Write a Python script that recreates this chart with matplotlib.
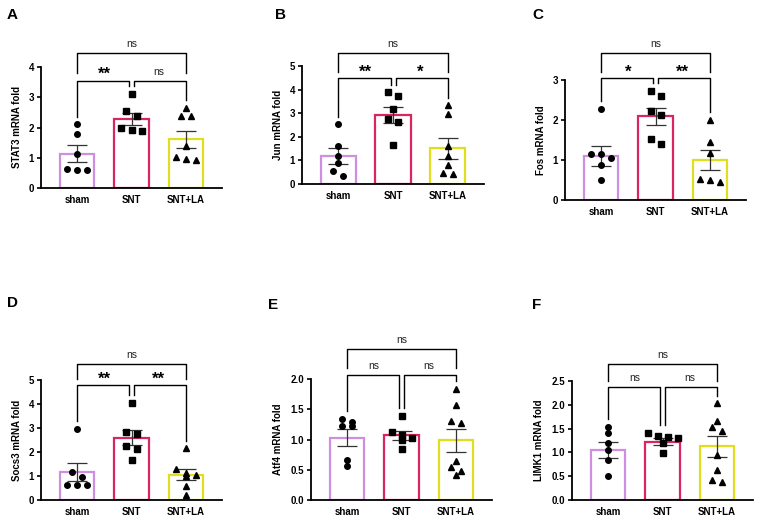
import matplotlib
matplotlib.use("Agg")
import matplotlib.pyplot as plt
import numpy as np

plt.rcParams['font.family'] = ['Liberation Sans', 'DejaVu Sans']

groups = ["sham", "SNT", "SNT+LA"]
bar_colors = ["#CF8FE0", "#D9265F", "#E0DF1F"]
markers = ["o", "s", "^"]

panel_letters = ["A", "B", "C", "D", "E", "F"]
ylabels = ["STAT3 mRNA fold", "Jun mRNA fold", "Fos mRNA fold",
           "Socs3 mRNA fold", "Atf4 mRNA fold", "LIMK1 mRNA fold"]
ymaxes = [4, 5, 3, 5, 2.0, 2.5]
ysteps = [1, 1, 1, 1, 0.5, 0.5]
ytick_fmt = ["{:.0f}", "{:.0f}", "{:.0f}", "{:.0f}", "{:.1f}", "{:.1f}"]

# individual points per group (sham, SNT, SNT+LA)
stat3 = [[2.10, 1.80, 1.13, 0.58, 0.64, 0.58],
         [3.10, 2.55, 2.38, 1.90, 1.98, 1.92],
         [2.64, 2.39, 2.37, 1.39, 1.02, 0.91, 0.97]]
jun = [[2.53, 1.59, 1.19, 0.88, 0.56, 0.32],
       [3.89, 3.71, 3.16, 2.75, 2.63, 1.66],
       [3.33, 2.96, 1.59, 1.19, 0.80, 0.44, 0.48]]
fos = [[2.28, 1.16, 1.16, 1.04, 0.88, 0.50],
       [2.72, 2.60, 2.22, 2.12, 1.52, 1.40],
       [2.00, 1.46, 1.17, 0.46, 0.53, 0.49]]
socs3 = [[2.96, 1.15, 0.97, 0.64, 0.64, 0.64],
         [4.06, 2.85, 2.74, 2.25, 2.11, 1.67],
         [2.15, 1.28, 1.14, 1.00, 1.06, 0.58, 0.21]]
atf4 = [[1.23, 1.29, 1.34, 1.23, 0.66, 0.56],
        [1.39, 1.07, 1.12, 1.03, 1.00, 0.84],
        [1.84, 1.57, 1.30, 1.27, 0.65, 0.54, 0.48, 0.41]]
limk1 = [[1.54, 1.40, 1.20, 1.05, 0.85, 0.50],
         [1.30, 1.34, 1.41, 1.33, 1.19, 0.98],
         [2.03, 1.67, 1.53, 1.44, 0.95, 0.63, 0.43, 0.38]]
points = [stat3, jun, fos, socs3, atf4, limk1]

# bar heights and SEM
means = [[1.13, 2.27, 1.61], [1.17, 2.94, 1.52], [1.11, 2.09, 1.00],
         [1.17, 2.60, 1.05], [1.03, 1.07, 0.99], [1.05, 1.22, 1.13]]
sems = [[0.285, 0.20, 0.285], [0.34, 0.335, 0.44], [0.25, 0.21, 0.255],
        [0.375, 0.32, 0.235], [0.14, 0.075, 0.19], [0.16, 0.075, 0.22]]

# significance: sham-SNT, SNT-SNT+LA, sham-SNT+LA
sig = [["**", "ns", "ns"], ["**", "*", "ns"], ["*", "**", "ns"],
       ["**", "**", "ns"], ["ns", "ns", "ns"], ["ns", "ns", "ns"]]
bracket_low = [3.55, 4.48, 3.04, 4.79, 2.07, 2.37]
bracket_top = [4.46, 5.54, 3.67, 5.67, 2.50, 2.86]

W, H = 757, 520
# axes boxes in pixels: left, top, right, bottom
boxes = [(41, 67, 222, 188), (302, 66, 484, 184), (565, 80, 746, 200),
         (41, 380, 222, 500), (311, 379, 492, 500), (572, 381, 753, 500)]
letter_pos = [(7, 15), (275, 15), (532, 15), (7, 303), (268, 305), (532, 305)]

XMIN, XMAX = -0.66, 2.66

fig = plt.figure(figsize=(W / 100, H / 100), dpi=100)


def swarm_offsets(vals, ppu_x, ppu_y, gap_px=10, row_px=6):
    vals = np.asarray(vals)
    order = np.argsort(-vals, kind="stable")
    rows = []
    for i in order:
        if rows and abs(vals[rows[-1][0]] - vals[i]) * ppu_y < row_px:
            rows[-1].append(i)
        else:
            rows.append([i])
    offs = np.zeros(len(vals))
    for row in rows:
        n = len(row)
        for k, i in enumerate(row):
            offs[i] = (k - (n - 1) / 2) * gap_px / ppu_x
    return offs


for p in range(6):
    l, t, r, b = boxes[p]
    ax = fig.add_axes([l / W, 1 - b / H, (r - l) / W, (b - t) / H])
    ymax = ymaxes[p]
    ppu_x = (r - l) / (XMAX - XMIN)
    ppu_y = (b - t) / ymax
    x = np.arange(3)

    ax.bar(x, means[p], width=0.64, color="white", edgecolor=bar_colors,
           linewidth=1.6, zorder=2)
    ax.errorbar(x, means[p], yerr=sems[p], fmt="none", ecolor="#333333",
                elinewidth=0.9, capsize=7.5, capthick=0.9, zorder=3)
    for g in range(3):
        vals = points[p][g]
        offs = swarm_offsets(vals, ppu_x, ppu_y)
        ms = 4.4 if markers[g] == "^" else 4.0
        ax.plot(g + offs, vals, linestyle="none", marker=markers[g], ms=ms,
                color="black", zorder=4, clip_on=False)

    # brackets
    pad = 0.065 * ymax
    gmax = [max(v) + pad for v in points[p]]
    lo, hi = bracket_low[p], bracket_top[p]
    d = 2.5 / ppu_x
    leg_top = lo + 0.27 * (hi - lo)
    kw = dict(color="black", lw=1.0, clip_on=False, zorder=5)
    ax.plot([0, 0, 1 - d, 1 - d], [gmax[0], lo, lo, gmax[1]], **kw)
    ax.plot([1 + d, 1 + d, 2, 2], [gmax[1], lo, lo, gmax[2]], **kw)
    ax.plot([0, 0, 2, 2], [leg_top, hi, hi, leg_top], **kw)
    for (xc, yl, s) in [(0.5, lo, sig[p][0]), (1.5, lo, sig[p][1]), (1.0, hi, sig[p][2])]:
        if s == "ns":
            ax.annotate(s, (xc, yl), xytext=(0, 6.5), textcoords="offset points",
                        ha="center", va="center", fontsize=7.5, color="#222222",
                        annotation_clip=False)
        else:
            ax.annotate(s, (xc, yl), xytext=(0, 4.5), textcoords="offset points",
                        ha="center", va="center", fontsize=12, fontweight="bold",
                        annotation_clip=False)

    ax.set_xlim(XMIN, XMAX)
    ax.set_ylim(0, ymax)
    yt = np.arange(0, ymax + 1e-9, ysteps[p])
    ax.set_yticks(yt)
    ax.set_yticklabels([ytick_fmt[p].format(v) for v in yt])
    ax.set_xticks(x)
    ax.set_xticklabels(groups)
    for s in ["top", "right"]:
        ax.spines[s].set_visible(False)
    for s in ["left", "bottom"]:
        ax.spines[s].set_linewidth(1.3)
    ax.tick_params(axis="y", length=3, width=1.2, labelsize=7, pad=2)
    ax.tick_params(axis="x", length=0, labelsize=7, pad=5)
    for lab in ax.get_xticklabels() + ax.get_yticklabels():
        lab.set_fontweight("bold")
    ax.set_ylabel(ylabels[p], fontsize=7, fontweight="bold", labelpad=5)

    lx, ly = letter_pos[p]
    fig.text(lx / W, 1 - ly / H, panel_letters[p], fontsize=11,
             fontweight="bold", ha="left", va="center")

fig.savefig("out.png", dpi=100)
